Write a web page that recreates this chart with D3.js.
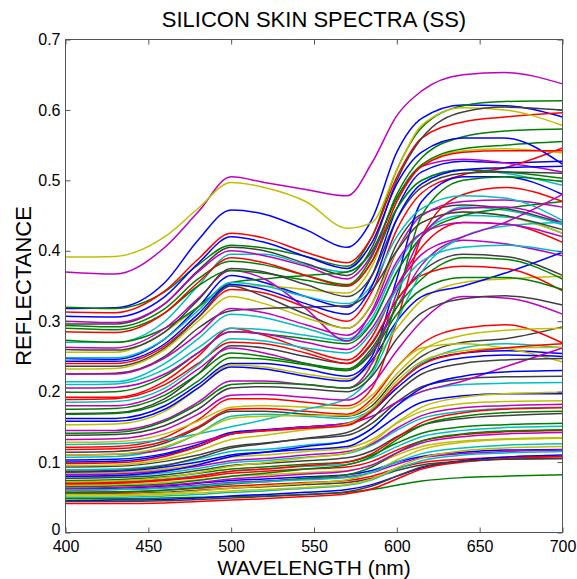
<!DOCTYPE html>
<html>
<head>
<meta charset="utf-8">
<script src="https://cdn.jsdelivr.net/npm/d3@7"></script>
<style>
body { margin: 0; background: #fff; }
text { font-family: "Liberation Sans", Arial, Helvetica, sans-serif; fill: #000; }
</style>
</head>
<body>
<div id="chart"></div>
<script>
// sample wavelengths (nm)
var wavelengths = [400, 430, 460, 480, 500, 520, 545, 570, 585, 600, 615, 640, 665, 700];

var reflectance = [
    [0.318,0.319,0.355,0.415,0.458,0.452,0.430,0.405,0.445,0.540,0.588,0.607,0.606,0.590],
    [0.320,0.318,0.342,0.380,0.408,0.404,0.392,0.378,0.420,0.515,0.575,0.606,0.612,0.613],
    [0.313,0.312,0.343,0.388,0.425,0.418,0.398,0.383,0.420,0.505,0.560,0.583,0.590,0.596],
    [0.270,0.270,0.300,0.350,0.395,0.395,0.380,0.370,0.398,0.460,0.500,0.515,0.510,0.493],
    [0.370,0.367,0.405,0.455,0.505,0.497,0.487,0.478,0.525,0.592,0.627,0.650,0.653,0.637],
    [0.391,0.392,0.420,0.460,0.497,0.490,0.470,0.432,0.440,0.515,0.578,0.603,0.600,0.578],
    [0.296,0.296,0.325,0.372,0.405,0.400,0.382,0.365,0.405,0.500,0.560,0.597,0.604,0.600],
    [0.247,0.246,0.275,0.320,0.365,0.355,0.335,0.320,0.365,0.460,0.512,0.527,0.525,0.527],
    [0.294,0.292,0.318,0.360,0.385,0.380,0.365,0.352,0.392,0.480,0.532,0.562,0.570,0.573],
    [0.240,0.240,0.265,0.305,0.345,0.340,0.320,0.300,0.342,0.430,0.482,0.508,0.518,0.546],
    [0.214,0.214,0.240,0.275,0.310,0.305,0.290,0.275,0.305,0.380,0.425,0.450,0.448,0.425],
    [0.300,0.298,0.325,0.370,0.400,0.393,0.378,0.360,0.395,0.475,0.520,0.530,0.525,0.512],
    [0.256,0.256,0.285,0.320,0.350,0.350,0.345,0.340,0.378,0.470,0.522,0.542,0.545,0.539],
    [0.236,0.236,0.262,0.305,0.350,0.335,0.310,0.290,0.325,0.410,0.452,0.465,0.460,0.439],
    [0.100,0.101,0.110,0.122,0.140,0.145,0.150,0.155,0.175,0.210,0.240,0.255,0.258,0.254],
    [0.273,0.270,0.290,0.320,0.355,0.360,0.365,0.370,0.400,0.475,0.522,0.545,0.550,0.555],
    [0.192,0.192,0.215,0.250,0.290,0.280,0.260,0.245,0.278,0.350,0.405,0.440,0.438,0.412],
    [0.210,0.211,0.232,0.262,0.290,0.288,0.280,0.272,0.300,0.370,0.420,0.462,0.458,0.437],
    [0.263,0.262,0.290,0.332,0.372,0.360,0.318,0.272,0.315,0.400,0.450,0.470,0.472,0.462],
    [0.232,0.233,0.260,0.300,0.335,0.325,0.305,0.290,0.325,0.400,0.440,0.455,0.450,0.425],
    [0.169,0.170,0.190,0.225,0.265,0.262,0.250,0.240,0.268,0.330,0.370,0.395,0.392,0.365],
    [0.162,0.162,0.180,0.210,0.240,0.240,0.232,0.222,0.250,0.360,0.470,0.505,0.505,0.480],
    [0.199,0.200,0.222,0.255,0.285,0.282,0.275,0.268,0.298,0.370,0.420,0.450,0.460,0.470],
    [0.121,0.122,0.135,0.160,0.190,0.190,0.185,0.180,0.205,0.300,0.420,0.480,0.490,0.470],
    [0.107,0.108,0.120,0.140,0.165,0.168,0.165,0.162,0.175,0.210,0.240,0.262,0.268,0.262],
    [0.180,0.180,0.200,0.232,0.262,0.255,0.240,0.230,0.258,0.320,0.380,0.415,0.410,0.393],
    [0.153,0.154,0.172,0.205,0.238,0.235,0.225,0.218,0.240,0.290,0.330,0.355,0.360,0.364],
    [0.114,0.115,0.127,0.148,0.172,0.172,0.168,0.165,0.180,0.220,0.250,0.270,0.275,0.292],
    [0.158,0.158,0.175,0.205,0.235,0.232,0.222,0.215,0.245,0.300,0.335,0.350,0.368,0.398],
    [0.175,0.176,0.195,0.225,0.255,0.250,0.240,0.232,0.262,0.320,0.360,0.390,0.388,0.360],
    [0.189,0.190,0.210,0.240,0.270,0.268,0.255,0.240,0.270,0.330,0.365,0.378,0.375,0.343],
    [0.089,0.090,0.096,0.104,0.115,0.118,0.124,0.130,0.148,0.180,0.200,0.210,0.212,0.213],
    [0.145,0.145,0.160,0.185,0.215,0.215,0.210,0.205,0.240,0.340,0.420,0.460,0.462,0.440],
    [0.084,0.085,0.090,0.097,0.107,0.110,0.115,0.120,0.132,0.155,0.172,0.183,0.186,0.187],
    [0.093,0.094,0.101,0.110,0.122,0.127,0.133,0.138,0.155,0.185,0.207,0.218,0.221,0.222],
    [0.086,0.087,0.093,0.100,0.110,0.114,0.118,0.122,0.140,0.165,0.185,0.194,0.197,0.197],
    [0.141,0.142,0.158,0.182,0.210,0.212,0.210,0.205,0.230,0.330,0.450,0.500,0.505,0.498],
    [0.118,0.119,0.130,0.150,0.175,0.176,0.172,0.168,0.190,0.235,0.268,0.290,0.295,0.269],
    [0.079,0.080,0.085,0.091,0.099,0.102,0.107,0.112,0.124,0.145,0.162,0.172,0.176,0.178],
    [0.082,0.083,0.088,0.094,0.102,0.105,0.110,0.115,0.126,0.148,0.166,0.177,0.180,0.182],
    [0.067,0.068,0.071,0.075,0.080,0.082,0.085,0.088,0.095,0.110,0.122,0.130,0.133,0.135],
    [0.077,0.078,0.082,0.088,0.095,0.098,0.102,0.106,0.116,0.136,0.152,0.162,0.166,0.169],
    [0.062,0.063,0.066,0.070,0.074,0.076,0.079,0.082,0.088,0.100,0.108,0.114,0.117,0.118],
    [0.048,0.048,0.049,0.050,0.051,0.052,0.054,0.057,0.061,0.067,0.073,0.078,0.080,0.082],
    [0.069,0.070,0.074,0.078,0.084,0.087,0.090,0.093,0.101,0.117,0.130,0.139,0.143,0.145],
    [0.072,0.072,0.076,0.081,0.087,0.090,0.094,0.097,0.106,0.122,0.136,0.145,0.149,0.151],
    [0.060,0.061,0.064,0.067,0.071,0.073,0.076,0.079,0.085,0.097,0.106,0.112,0.115,0.117],
    [0.128,0.129,0.140,0.158,0.178,0.180,0.178,0.176,0.195,0.235,0.262,0.268,0.262,0.242],
    [0.055,0.055,0.057,0.060,0.063,0.065,0.068,0.071,0.077,0.088,0.096,0.101,0.104,0.105],
    [0.103,0.104,0.112,0.125,0.142,0.146,0.150,0.154,0.172,0.205,0.232,0.248,0.252,0.250],
    [0.074,0.075,0.079,0.084,0.090,0.093,0.097,0.100,0.110,0.127,0.141,0.150,0.153,0.155],
    [0.057,0.057,0.060,0.063,0.066,0.068,0.071,0.074,0.080,0.091,0.099,0.104,0.107,0.108],
    [0.125,0.126,0.132,0.140,0.150,0.160,0.175,0.190,0.225,0.300,0.370,0.420,0.435,0.440],
    [0.110,0.111,0.118,0.128,0.140,0.145,0.150,0.155,0.165,0.185,0.200,0.215,0.235,0.262],
    [0.095,0.096,0.104,0.116,0.132,0.138,0.146,0.154,0.176,0.215,0.243,0.258,0.262,0.263],
    [0.225,0.226,0.250,0.290,0.315,0.318,0.320,0.322,0.345,0.400,0.440,0.455,0.450,0.430],
    [0.045,0.046,0.047,0.049,0.052,0.054,0.057,0.061,0.068,0.080,0.092,0.102,0.107,0.110],
    [0.290,0.288,0.312,0.350,0.372,0.368,0.358,0.350,0.385,0.460,0.500,0.515,0.512,0.503],
    [0.041,0.041,0.042,0.044,0.046,0.048,0.051,0.055,0.062,0.076,0.090,0.100,0.105,0.108],
    [0.248,0.248,0.275,0.315,0.355,0.350,0.335,0.325,0.352,0.420,0.460,0.478,0.475,0.443],
    [0.205,0.206,0.225,0.255,0.285,0.282,0.270,0.260,0.290,0.350,0.395,0.420,0.440,0.480],
    [0.054,0.054,0.056,0.059,0.063,0.066,0.070,0.075,0.085,0.103,0.118,0.128,0.132,0.134],
    [0.087,0.088,0.095,0.106,0.120,0.126,0.134,0.142,0.162,0.198,0.225,0.240,0.245,0.247],
    [0.307,0.306,0.335,0.382,0.420,0.412,0.392,0.375,0.412,0.495,0.540,0.560,0.560,0.523],
    [0.065,0.066,0.069,0.074,0.080,0.084,0.090,0.096,0.108,0.132,0.152,0.165,0.170,0.172],
    [0.285,0.284,0.312,0.355,0.390,0.383,0.365,0.350,0.385,0.470,0.520,0.540,0.542,0.542],
    [0.050,0.050,0.052,0.054,0.057,0.059,0.063,0.067,0.075,0.090,0.102,0.110,0.113,0.115],
    [0.132,0.133,0.146,0.168,0.195,0.196,0.192,0.188,0.210,0.258,0.300,0.335,0.333,0.310],
    [0.072,0.073,0.078,0.085,0.094,0.099,0.106,0.113,0.128,0.156,0.178,0.192,0.197,0.199],
    [0.260,0.259,0.285,0.330,0.375,0.370,0.352,0.335,0.365,0.445,0.490,0.510,0.512,0.510],
    [0.080,0.081,0.087,0.096,0.108,0.114,0.122,0.130,0.148,0.180,0.205,0.222,0.228,0.230],
    [0.057,0.058,0.060,0.064,0.069,0.072,0.077,0.082,0.093,0.113,0.130,0.140,0.144,0.146],
    [0.098,0.099,0.108,0.122,0.140,0.144,0.148,0.152,0.172,0.210,0.238,0.255,0.262,0.268],
    [0.060,0.061,0.063,0.066,0.070,0.072,0.075,0.078,0.086,0.100,0.112,0.120,0.124,0.126],
    [0.225,0.225,0.248,0.282,0.318,0.312,0.295,0.280,0.312,0.385,0.425,0.440,0.438,0.420],
    [0.052,0.052,0.054,0.056,0.059,0.061,0.064,0.068,0.076,0.092,0.106,0.116,0.120,0.122],
    [0.138,0.139,0.152,0.175,0.205,0.207,0.204,0.200,0.222,0.275,0.312,0.332,0.336,0.323],
    [0.243,0.243,0.268,0.310,0.352,0.345,0.325,0.310,0.350,0.445,0.495,0.515,0.518,0.520],
    [0.168,0.169,0.186,0.215,0.248,0.246,0.238,0.230,0.255,0.310,0.345,0.362,0.362,0.345],
    [0.070,0.071,0.075,0.080,0.087,0.090,0.095,0.100,0.112,0.135,0.156,0.170,0.175,0.177],
    [0.185,0.186,0.205,0.238,0.275,0.272,0.262,0.255,0.285,0.345,0.385,0.405,0.408,0.398],
    [0.063,0.064,0.067,0.071,0.076,0.079,0.083,0.087,0.096,0.113,0.127,0.136,0.140,0.142],
    [0.110,0.111,0.122,0.140,0.162,0.165,0.166,0.166,0.185,0.225,0.258,0.280,0.287,0.290],
    [0.044,0.044,0.045,0.047,0.049,0.051,0.054,0.058,0.066,0.080,0.093,0.101,0.104,0.105]
];

var xTicks = [400, 450, 500, 550, 600, 650, 700];
var yTicks = [0, 0.1, 0.2, 0.3, 0.4, 0.5, 0.6, 0.7];
var yTickLabels = ["0", "0.1", "0.2", "0.3", "0.4", "0.5", "0.6", "0.7"];

// matlab's old default color order
var lineColors = ["#0000ff", "#008000", "#ff0000", "#00bfbf", "#bf00bf", "#bfbf00", "#404040"];

var w = 577;
var h = 579;

var plotLeft = 65.5;
var plotRight = 562.5;
var plotTop = 39.5;
var plotBottom = 532.5;

var svg = d3.select("#chart")
            .append("svg")
            .attr("width", w)
            .attr("height", h);

var x = d3.scaleLinear().domain([400, 700]).range([plotLeft, plotRight]);
var y = d3.scaleLinear().domain([0, 0.7]).range([plotBottom, plotTop]);

svg.append("clipPath")
    .attr("id", "plotClip")
    .append("rect")
    .attr("x", plotLeft)
    .attr("y", plotTop)
    .attr("width", plotRight - plotLeft)
    .attr("height", plotBottom - plotTop);

var line = d3.line()
    .x(function (d, i) { return x(wavelengths[i]); })
    .y(function (d) { return y(d); })
    .curve(d3.curveMonotoneX);

//Draw the spectra
svg.append("g")
    .attr("clip-path", "url(#plotClip)")
    .selectAll("path")
    .data(reflectance)
    .enter()
    .append("path")
    .attr("fill", "none")
    .attr("stroke", function (d, i) { return lineColors[i % lineColors.length]; })
    .attr("stroke-width", 1.5)
    .attr("stroke-linejoin", "round")
    .attr("d", line);

// axes, ticks pointing in like matlab
var axisColor = "#555";

function styleAxis(g) {
    g.select(".domain").remove();
    g.selectAll(".tick line").attr("stroke", axisColor);
    g.selectAll(".tick text").attr("font-size", 16).attr("fill", "#000");
}

var yAxisG = svg.append("g")
    .attr("transform", "translate(" + plotLeft + ",0)")
    .call(d3.axisLeft(y).tickValues(yTicks)
        .tickFormat(function (d, i) { return yTickLabels[i]; })
        .tickSize(-5).tickPadding(5))
    .call(styleAxis);

// lift the "0" a little so it sits just above the 400 label
yAxisG.selectAll(".tick text")
    .filter(function (d) { return d === 0; })
    .attr("dy", "0.1em");

svg.append("g")
    .attr("transform", "translate(" + plotRight + ",0)")
    .call(d3.axisRight(y).tickValues(yTicks).tickFormat("").tickSize(-5))
    .call(styleAxis);

svg.append("g")
    .attr("transform", "translate(0," + plotBottom + ")")
    .call(d3.axisBottom(x).tickValues(xTicks).tickFormat(d3.format("d"))
        .tickSize(-5).tickPadding(8.5))
    .call(styleAxis);

svg.append("g")
    .attr("transform", "translate(0," + plotTop + ")")
    .call(d3.axisTop(x).tickValues(xTicks).tickFormat("").tickSize(-5))
    .call(styleAxis);

svg.append("rect")
    .attr("x", plotLeft)
    .attr("y", plotTop)
    .attr("width", plotRight - plotLeft)
    .attr("height", plotBottom - plotTop)
    .attr("fill", "none")
    .attr("stroke", axisColor)
    .attr("stroke-width", 1);

svg.append("text")
    .attr("x", (plotLeft + plotRight) / 2)
    .attr("y", 27)
    .attr("text-anchor", "middle")
    .attr("font-size", 22)
    .text("SILICON SKIN SPECTRA (SS)");

svg.append("text")
    .attr("x", (plotLeft + plotRight) / 2)
    .attr("y", 574.8)
    .attr("text-anchor", "middle")
    .attr("font-size", 21)
    .text("WAVELENGTH (nm)");

svg.append("text")
    .attr("transform", "translate(31," + (plotTop + plotBottom) / 2 + ")rotate(-90)")
    .attr("text-anchor", "middle")
    .attr("font-size", 22)
    .text("REFLECTANCE");
</script>
</body>
</html>
